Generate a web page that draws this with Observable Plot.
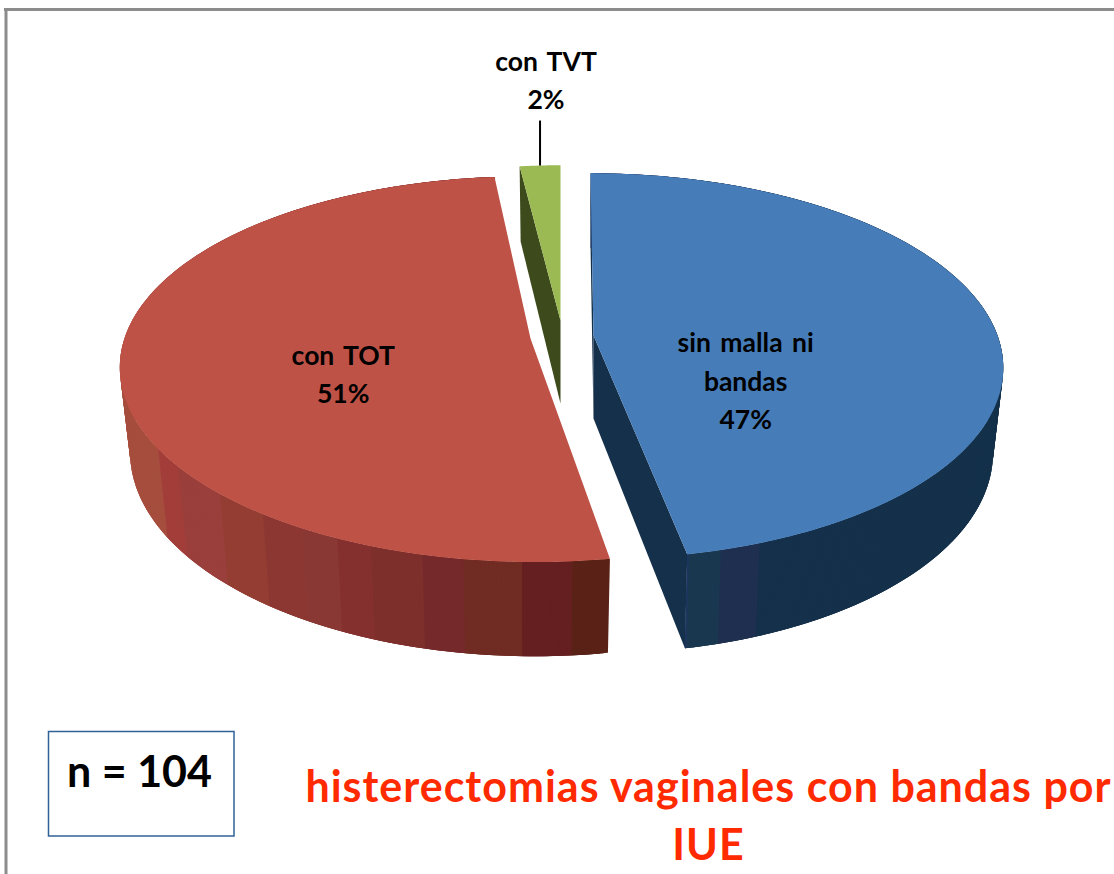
<!DOCTYPE html>
<html>
<head>
<meta charset="utf-8">
<script src="https://cdn.jsdelivr.net/npm/d3@7"></script>
<script src="https://cdn.jsdelivr.net/npm/@observablehq/plot@0.6"></script>
<style>
html,body{margin:0;padding:0;background:#fff;overflow:hidden}
svg{display:block}
.wide-title text, text.wide-title{letter-spacing:1px}
.wide-words text, text.wide-words{word-spacing:3px}
</style>
</head>
<body>
<div id="chart"></div>
<script>
// ---- chart data ----
const categories = ["sin malla ni\nbandas", "con TOT", "con TVT"];
const percents = [47, 51, 2];
const sampleLabel = "n = 104";
const titleText = "histerectomias vaginales con bandas por\nIUE";

// ---- colours ----
const topColors = ["#467DB9", "#BF5246", "#9BBA54"];
const wallColors = ["#14304A", "#8A3834", "#3D4A1B"];
const blueBandEdges = [690, 720, 760];
const blueBandColors = ["#1D3560", "#1A3750", "#1F2F4F", "#14304A"];
const redBandEdges = [157, 177, 220, 263, 300, 337, 370, 423, 463, 520, 573];
const redBandColors = ["#A64E3E", "#A23E3A", "#9A3F3B", "#943E33", "#8C3732", "#8A3834", "#84302E", "#7D2F2B", "#76292B", "#702B22", "#661F20", "#5A2216"];
const FONT = "Lato, 'Open Sans', sans-serif";

// ---- pie geometry: exploded slice apexes + perspective of the tilted disc ----
const apexes = [[593, 335], [530, 338], [560, 320]];
const RX = 406, RY = 188, K = 0.159, SHEAR = 0.0185;
const DEPTH = 83, FLOOR_X = 0.975, FLOOR_Y = 1.05;
const rotate = [0, 1.8, 0];       // degrees each slice is turned on the disc
const scaleX = [0.995, 1, 0.93];
const scaleY = [1, 1, 0.957];

function project(i, deg, r, floor) {
  const a = deg * Math.PI / 180;
  const u = r * Math.sin(a), v = -r * Math.cos(a), w = 1 - K * v;
  const px = RX * scaleX[i] * u / w, py = RY * scaleY[i] * v / w;
  const sx = px + SHEAR * py * (i === 2 ? 0 : 1);
  return floor
    ? [apexes[i][0] + sx * FLOOR_X, apexes[i][1] + py * FLOOR_Y + DEPTH]
    : [apexes[i][0] + sx, apexes[i][1] + py];
}

const ends = d3.cumsum(percents).map(d => d * 3.6);
const starts = [0, ...ends.slice(0, -1)];

const sideRows = [], wallRows = [], topRows = [];
function poly(rows, id, c, pts) { pts.forEach(p => rows.push({id, c, x: p[0], y: p[1]})); }

const blueBand = d3.scaleThreshold(blueBandEdges, blueBandColors);
const redBand = d3.scaleThreshold(redBandEdges, redBandColors);

percents.forEach((_, i) => {
  const a0 = starts[i] + rotate[i], a1 = ends[i] + rotate[i];
  const arc = d3.range(a0, a1, 0.5).concat([a1]);
  // outer side: overlapping facets painted in order, so no seams show
  if (i < 2) {
    arc.slice(0, -1).forEach((a, j) => {
      const b = arc[Math.min(j + 3, arc.length - 1)];
      const mid = project(i, (a + arc[j + 1]) / 2, 1, false)[0];
      const c = i === 0 ? blueBand(mid) : redBand(mid);
      poly(sideRows, `s${i}-${j}`, c, [project(i, a, 1, false), project(i, b, 1, false), project(i, b, 1, true), project(i, a, 1, true)]);
    });
  }
  // top face
  poly(topRows, `t${i}`, topColors[i], [project(i, 0, 0, false), ...arc.map(a => project(i, a, 1, false))]);
});

// cut walls that the viewer can see
poly(wallRows, "w0a", wallColors[0], [project(0, ends[0], 1, false), project(0, 0, 0, false), project(0, 0, 0, true), project(0, ends[0], 1, true)]);
poly(wallRows, "w0b", wallColors[0], [project(0, 0, 1, false), project(0, 0, 0, false), project(0, 0, 0, true), project(0, 0, 1, true)]);
poly(wallRows, "w2", wallColors[2], [project(2, starts[2], 1, false), project(2, 0, 0, false), project(2, 0, 0, true), project(2, starts[2], 1, true)]);

const facets = rows => Plot.line(rows, {x: "x", y: "y", z: "id", fill: "c", stroke: "none", curve: "linear"});

// labels
const labelAt = [project(0, 123, 0.43, false), project(1, 247.4, 0.484, false)];
const labelRows = [
  {text: `${categories[0]}\n${percents[0]}%`, x: labelAt[0][0], y: labelAt[0][1] - 3},
  {text: `${categories[1]}\n${percents[1]}%`, x: labelAt[1][0] - 1, y: labelAt[1][1] - 3}
];
const tvtMid = (starts[2] + ends[2]) / 2;
const tvtFoot = project(2, tvtMid, 1, false);
const tvtLabel = [{text: `${categories[2]}\n${percents[2]}%`, x: tvtFoot[0] + 6, y: tvtFoot[1] - 88}];

const labelStyle = {x: "x", y: "y", text: "text", fontFamily: FONT, fontSize: 26.5, fontWeight: 700, lineHeight: 1.45, fill: "#000", className: "wide-words"};

const chart = Plot.plot({
  width: 1114, height: 874,
  margin: 0,
  x: {domain: [0, 1114], range: [0, 1114], axis: null},
  y: {domain: [0, 874], range: [0, 874], axis: null},
  color: {type: "identity"},
  style: {background: "#fff"},
  marks: [
    // frame
    Plot.ruleY([9], {x1: 4, x2: 1114, stroke: "#8C8C8C", strokeWidth: 3}),
    Plot.ruleX([5.5], {y1: 8, y2: 874, stroke: "#8C8C8C", strokeWidth: 3}),
    // pie
    facets(wallRows),
    facets(sideRows),
    facets(topRows),
    // leader + labels
    Plot.link([tvtFoot], {x1: d => d[0], y1: d => d[1], x2: d => d[0], y2: d => d[1] - 45, stroke: "#000", strokeWidth: 2}),
    Plot.text(labelRows, labelStyle),
    Plot.text(tvtLabel, labelStyle),
    // sample box
    Plot.rect([{x1: 48.5, x2: 234, y1: 731.5, y2: 836}], {x1: "x1", x2: "x2", y1: "y1", y2: "y2", fill: "#fff", stroke: "#2F6296", strokeWidth: 1.5}),
    Plot.text([sampleLabel], {x: 139, y: 773, text: d => d, fontFamily: FONT, fontSize: 43, fontWeight: 700, fill: "#000"}),
    // title
    Plot.text([titleText], {x: 708, y: 816, dy: -4, text: d => d, fontFamily: FONT, fontSize: 43, fontWeight: 700, lineHeight: 1.35, fill: "#FF2A00", className: "wide-title"})
  ]
});
document.getElementById("chart").append(chart);
</script>
</body>
</html>
